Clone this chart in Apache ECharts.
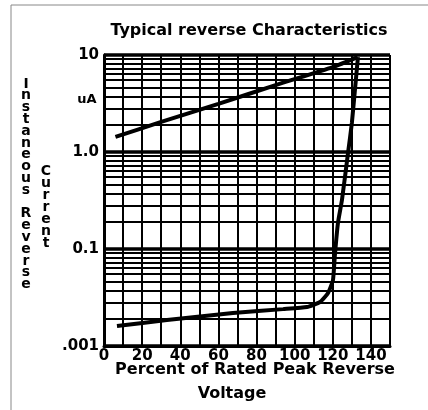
<!DOCTYPE html>
<html>
<head>
<meta charset="utf-8">
<script src="https://cdn.jsdelivr.net/npm/echarts@6/dist/echarts.min.js"></script>
<style>
  html, body { margin: 0; padding: 0; background: #fff; }
  #chart { width: 428px; height: 410px; }
</style>
</head>
<body>
<div id="chart"></div>
<script>
// percent of rated peak reverse voltage vs reverse current (uA)
const upperX = [6, 30, 60, 90, 120, 133];
const upperY = [1.43, 2.04, 3.13, 4.9, 7.5, 9.5];

const lowerX = [6.8, 33, 67.6, 93.9, 106.4, 113.3, 117.5, 120.1, 121.1, 122.7, 124.8, 128, 130, 131.6, 133.2];
const lowerY = [0.0161, 0.0185, 0.0219, 0.024, 0.0252, 0.0284, 0.0352, 0.0479, 0.0867, 0.185, 0.32, 0.98, 1.99, 4.36, 9.5];

const xTickLabels = ["0", "20", "40", "60", "80", "100", "120", "140"];
const yTickValues = [0.01, 0.1, 1, 10];
const yTickLabels = [".001", "0.1", "1.0", "10"];

const font = "DejaVu Sans";

var myChart = echarts.init(document.getElementById("chart"));

let option = {
  backgroundColor: "#fff",
  animation: false,
  textStyle: { fontFamily: font, color: "#000" },
  title: {
    text: "Typical reverse Characteristics",
    left: 244,
    top: 18,
    textAlign: "center",
    textStyle: { fontFamily: font, fontSize: 16, fontWeight: "bold", color: "#000" },
  },
  grid: { left: 104, top: 55, right: 38, bottom: 64 },
  xAxis: {
    type: "value",
    min: 0,
    max: 150,
    interval: 10,
    axisLine: { show: true, onZero: false, lineStyle: { color: "#000", width: 3 } },
    axisTick: { show: false },
    splitLine: { show: true, lineStyle: { color: "#000", width: 2 } },
    axisLabel: {
      margin: 3,
      fontFamily: font,
      fontSize: 15,
      fontWeight: "bold",
      color: "#000",
      formatter: (v) => {
        const i = xTickLabels.indexOf(String(v));
        return i >= 0 ? xTickLabels[i] : "";
      },
    },
  },
  yAxis: {
    type: "log",
    logBase: 10,
    min: 0.01,
    max: 10,
    axisLine: { show: true, lineStyle: { color: "#000", width: 3 } },
    axisTick: { show: false },
    splitLine: { show: true, lineStyle: { color: "#000", width: 3.5 } },
    minorTick: { show: false, splitNumber: 10 },
    minorSplitLine: { show: true, lineStyle: { color: "#000", width: 2 } },
    axisLabel: {
      margin: 5,
      fontFamily: font,
      fontSize: 15,
      fontWeight: "bold",
      color: "#000",
      formatter: (v) => {
        for (let i = 0; i < yTickValues.length; i++) {
          if (Math.abs(Math.log10(v) - Math.log10(yTickValues[i])) < 1e-6) return yTickLabels[i];
        }
        return "";
      },
    },
  },
  graphic: [
    {
      type: "rect",
      shape: { x: 11, y: 5, width: 430, height: 420 },
      style: { fill: "none", stroke: "#888", lineWidth: 1 },
      silent: true,
    },
    {
      type: "text",
      x: 87,
      y: 100,
      style: { text: "uA", fontFamily: font, fontSize: 13, fontWeight: "bold", fill: "#000", align: "center", verticalAlign: "middle" },
    },
    {
      type: "text",
      x: 26,
      y: 78,
      style: {
        text: "Instaneous Reverse".split("").join("\n"),
        fontFamily: font, fontSize: 14, fontWeight: "bold", fill: "#000",
        align: "center", lineHeight: 11.8,
      },
    },
    {
      type: "text",
      x: 46,
      y: 165,
      style: {
        text: "Current".split("").join("\n"),
        fontFamily: font, fontSize: 14, fontWeight: "bold", fill: "#000",
        align: "center", lineHeight: 12,
      },
    },
    {
      type: "text",
      x: 255,
      y: 362,
      style: { text: "Percent of Rated Peak Reverse", fontFamily: font, fontSize: 16, fontWeight: "bold", fill: "#000", align: "center" },
    },
    {
      type: "text",
      x: 232,
      y: 386,
      style: { text: "Voltage", fontFamily: font, fontSize: 16, fontWeight: "bold", fill: "#000", align: "center" },
    },
  ],
  series: [
    {
      type: "line",
      data: upperX.map((x, i) => [x, upperY[i]]),
      showSymbol: false,
      smooth: 0.2,
      lineStyle: { color: "#000", width: 4 },
    },
    {
      type: "line",
      data: lowerX.map((x, i) => [x, lowerY[i]]),
      showSymbol: false,
      smooth: 0.15,
      lineStyle: { color: "#000", width: 4 },
    },
  ],
};
myChart.setOption(option);
</script>
</body>
</html>
